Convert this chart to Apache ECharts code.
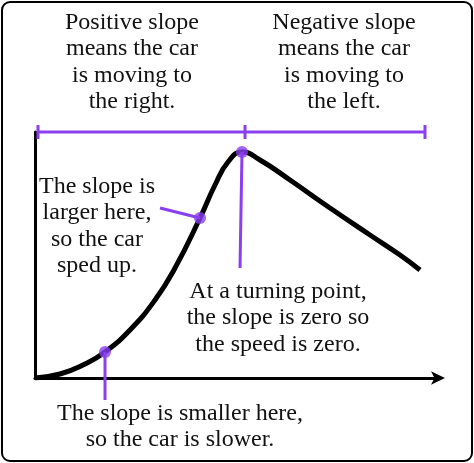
<!DOCTYPE html>
<html><head><meta charset="utf-8">
<script src="https://cdn.jsdelivr.net/npm/echarts@6/dist/echarts.min.js"></script>
<style>html,body{margin:0;padding:0;background:#fff}#c{width:474px;height:463px}</style>
</head><body><div id="c"></div>
<script>
var curveX=[0,25,50,70,95,120,140,165,180,193,207,225,255,295,335,365,385];
var curveY=[0,4,14,26,48,78,110,160,193,216,226,218,198,170,143,123,108];
var pointsX=[70,165,207];
var pointsY=[26,160,226];
var barY=246, barX=[3,210,390];
var PURPLE='#8a3ff0';
var chart=echarts.init(document.getElementById('c'));
function pairs(xs,ys){return xs.map(function(x,i){return [x,ys[i]];});}
function seg(a,b){return {type:'line',data:[a,b],symbol:'none',clip:false,silent:true,lineStyle:{color:PURPLE,width:3},z:3};}
var ticks=barX.map(function(x){return seg([x,barY-7],[x,barY+7]);});
var font='"Liberation Serif","DejaVu Serif",serif';
function txt(x,y,s){return {type:'text',x:x,y:y,style:{text:s,font:'24px '+font,fill:'#111',align:'center',lineHeight:26.5,verticalAlign:'top'}};}
chart.setOption({
 animation:false,
 grid:{left:35,top:132,width:405,height:246},
 xAxis:{type:'value',min:0,max:405,axisLine:{show:true,lineStyle:{color:'#000',width:3},symbol:['none','arrow'],symbolSize:[10,14],symbolOffset:[0,5]},axisTick:{show:false},axisLabel:{show:false},splitLine:{show:false}},
 yAxis:{type:'value',min:0,max:246,axisLine:{show:true,lineStyle:{color:'#000',width:3}},axisTick:{show:false},axisLabel:{show:false},splitLine:{show:false}},
 series:[
  {type:'line',data:pairs(curveX,curveY),smooth:true,symbol:'none',lineStyle:{color:'#000',width:5},z:2},
  seg([barX[0],barY],[barX[2],barY])
 ].concat(ticks).concat([
  seg([70,26],[70,-22]),
  seg([165,160],[125,170]),
  seg([207,226],[205,110]),
  {type:'scatter',data:pairs(pointsX,pointsY),symbolSize:12,itemStyle:{color:PURPLE},z:5}
 ]),
 graphic:[
  {type:'rect',shape:{x:2,y:2,width:470,height:459,r:8},style:{fill:'none',stroke:'#000',lineWidth:2}},
  txt(132,9,'Positive slope\nmeans the car\nis moving to\nthe right.'),
  txt(344,9,'Negative slope\nmeans the car\nis moving to\nthe left.'),
  txt(97,173,'The slope is\nlarger here,\nso the car\nsped up.'),
  txt(278,278,'At a turning point,\nthe slope is zero so\nthe speed is zero.'),
  txt(180,400,'The slope is smaller here,\nso the car is slower.')
 ]
});
</script></body></html>
